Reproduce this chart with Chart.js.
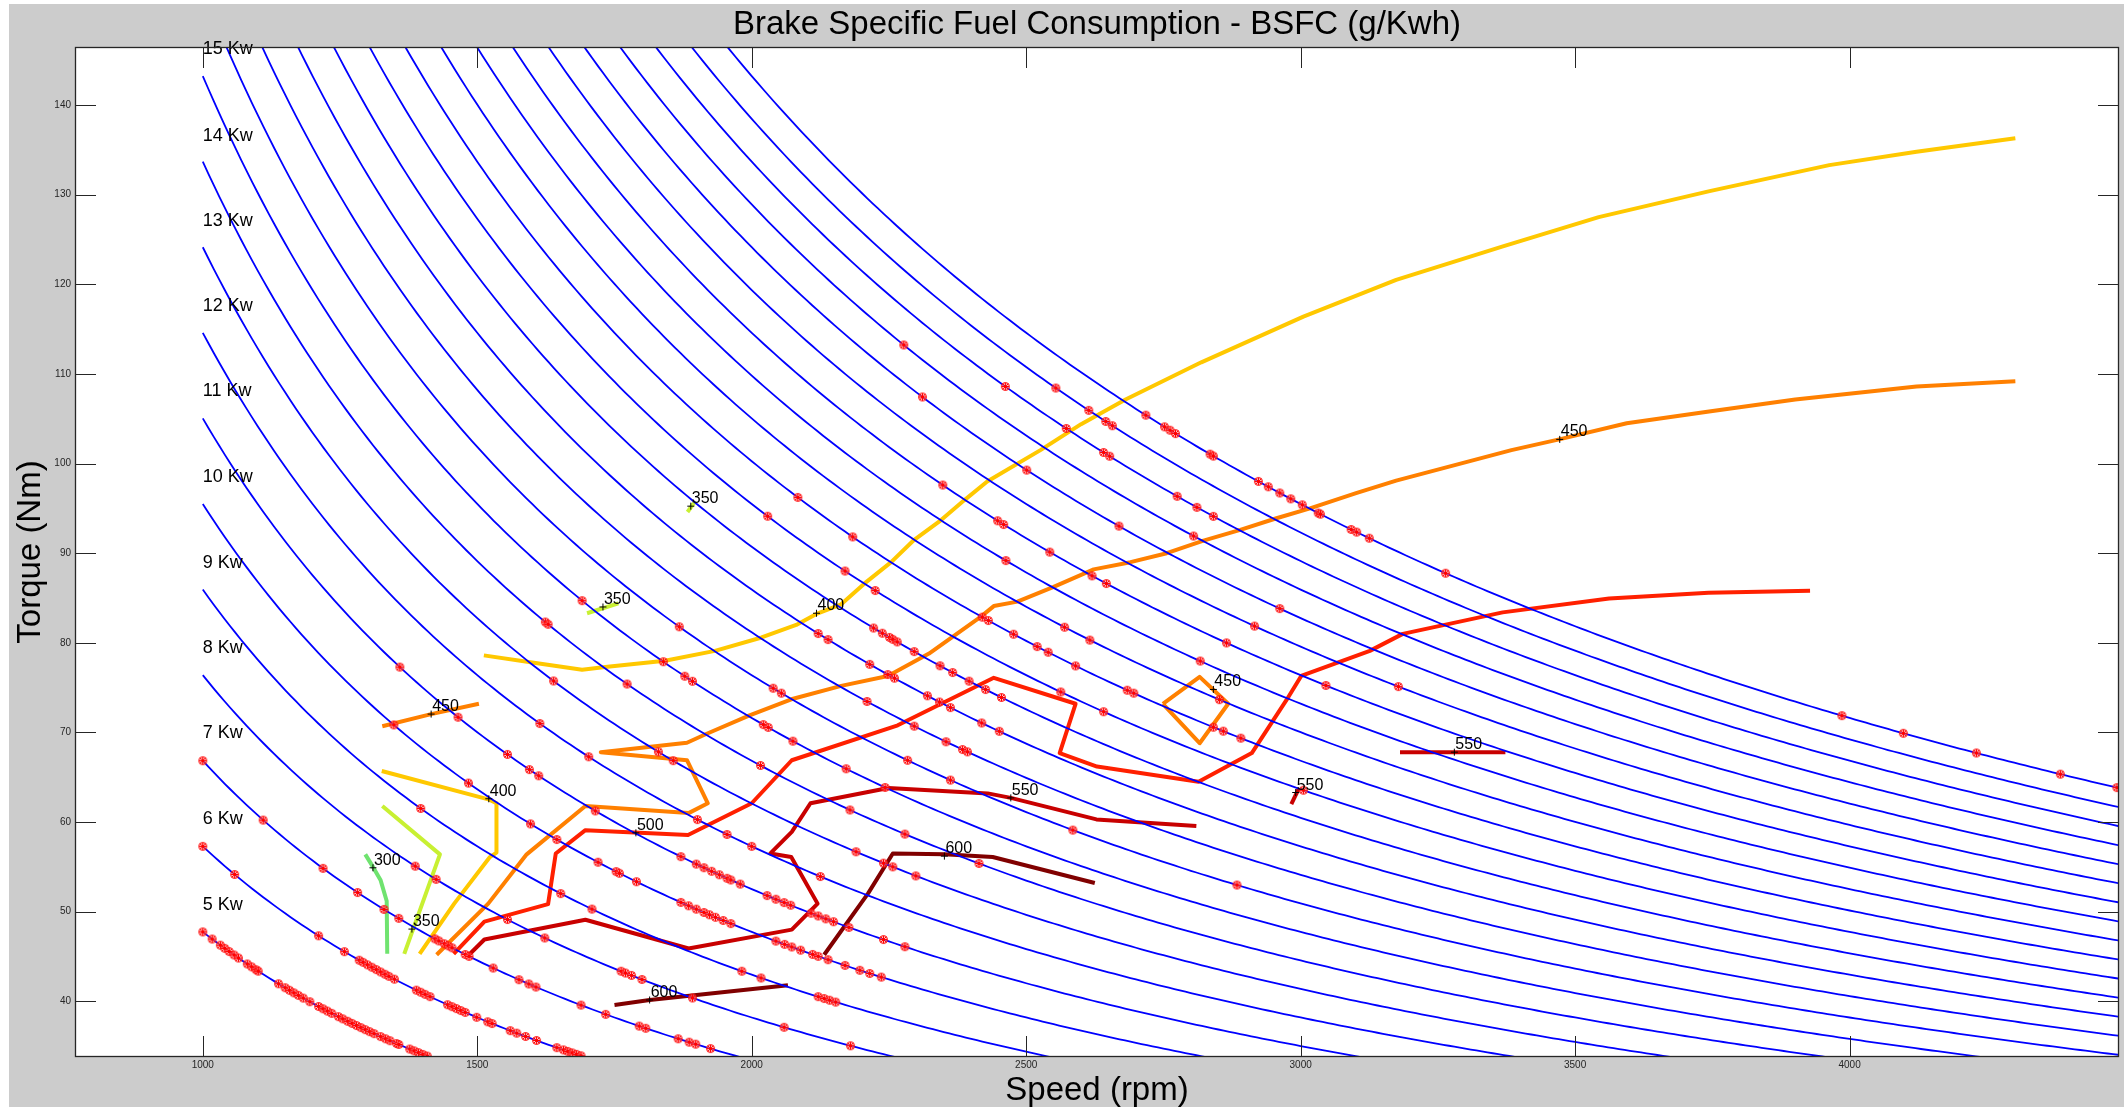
<!DOCTYPE html>
<html><head><meta charset="utf-8">
<script src="https://cdn.jsdelivr.net/npm/chart.js@4.4.1/dist/chart.umd.min.js"></script>
<style>
html,body{margin:0;padding:0;background:#fff;overflow:hidden;}
#wrap{position:absolute;left:0;top:0;width:2124px;height:1107px;}
</style></head><body>
<div id="wrap"><canvas id="c"></canvas></div>
<script>
const FONT = "'Liberation Sans', Arial, Helvetica, sans-serif";
const titleText = 'Brake Specific Fuel Consumption - BSFC (g/Kwh)';
const xAxisTitle = 'Speed (rpm)';
const yAxisTitle = 'Torque (Nm)';
const xTickValues = [1000, 1500, 2000, 2500, 3000, 3500, 4000];
const yTickValues = [40, 50, 60, 70, 80, 90, 100, 110, 120, 130, 140];
const xRange = [769, 4489];
const yRange = [33.9, 146.37];

// iso-power lines (kW) : torque = P * 9549.3 / rpm, drawn from 1000 rpm
const powerLevelsKw = [5,6,7,8,9,10,11,12,13,14,15,16,17,18,19,20,21,22,23,24,25,26,27,28,29,30];
const curveStartRpm = 1000;
const curveEndRpm = 4500;
// "N Kw" labels: text and torque position read at 1000 rpm
const kwLabelText = ['5 Kw','6 Kw','7 Kw','8 Kw','9 Kw','10 Kw','11 Kw','12 Kw','13 Kw','14 Kw','15 Kw'];
const kwLabelTorque = [50.7, 60.3, 69.9, 79.4, 88.9, 98.5, 108.1, 117.6, 127.1, 136.6, 146.2];

// measured operating points: [power level kW, speeds rpm]
const opPoints = [
 [5,  [1000,1017,1032,1040,1048,1057,1065,1081,1089,1097,1101,1138,1150,1158,1166,1174,1183,1195,1211,1219,1227,1235,1247,1255,1264,1272,1280,1288,1296,1304,1312,1324,1333,1341,1353,1357,1377,1385,1393,1401,1409]],
 [6,  [1000,1058,1211,1258,1285,1292,1300,1308,1316,1324,1332,1339,1349,1389,1397,1405,1414,1446,1454,1462,1470,1478,1499,1519,1527,1560,1572,1588,1608,1645,1657,1665,1673,1681,1689]],
 [7,  [1000,1110,1219,1282,1330,1357,1423,1430,1440,1447,1454,1478,1485,1529,1576,1594,1607,1689,1734,1795,1807,1866,1886,1898,1925]],
 [8,  [1387,1425,1555,1623,1762,1770,1781,1800,1892,2059,2180]],
 [9,  [1397,1652,1709,1982,2017,2121,2132,2142,2153]],
 [10, [1348,1484,1597,1645,1720,1753,1759,1790,1871,1885,1899,1913,1923,1934,1948,1962,2044,2060,2073,2089,2111,2121,2139,2170,2197,2215,2236]],
 [11, [1359,1465,1555,1595,1612,1715,1871,1899,1913,1927,1941,1955,1962,1979,2028,2044,2059,2071,2108,2121,2135,2149,2177,2240,2279]],
 [12, [1614,1703,1901,1955,2000,2125]],
 [13, [1639,1830,1857,2190,2240,2257,2299]],
 [14, [1624,1629,1773,2016,2179,2279,2414]],
 [15, [1691,1839,1878,1892,2021,2030,2075,2172,2243]],
 [16, [1868,2039,2054,2284,2362,2585,2884]],
 [17, [2210,2296,2354,2384,2393]],
 [18, [2121,2139,2215,2248,2260,2320,2342,2362,2419,2451]],
 [19, [2222,2238,2251,2257,2265,2296,2343,2366,2396,2426,2455]],
 [20, [2029,2170,2225,2563,2641,3005]],
 [21, [2084,2184,2420,2431,2477,2520,2540,2590,2684,2696,2841,2859,2891]],
 [22, [2570,2616,2852]],
 [23, [2463,2817]],
 [24, [2348,2448,2459,2543,2620,2646,2865,3046]],
 [25, [2916,3178]],
 [26, [2311,2501,2669,2962]],
 [27, [2277,2805]],
 [28, [2462,2573,2641,2652,2775,2811,2841]],
 [29, [2554,2614,2645,2657]],
 [30, [2718,2752,2762,2772,2835,2841,2923,2941,2962,2982,3003,3032,3036,3092,3102,3125,3264,3986,4098,4231,4384,4487]]
];

// BSFC iso-lines [rpm, Nm]
const bsfc300  = [[1296,56.4],[1310,55.0],[1324,53.5],[1335,51.2],[1336,45.3]];
const bsfc350a = [[1327,61.8],[1432,56.4],[1367,45.3]];
const bsfc350b = [[1700,83.3],[1757,84.4]];
const bsfc350c = [[1883,94.6],[1896,95.7]];
const bsfc400a = [[1326,65.7],[1522,62.5],[1535,62.1],[1535,56.6],[1523,56.1],[1458,50.9],[1395,45.3]];
const bsfc400b = [[1512,78.6],[1600,77.8],[1691,77.0],[1733,77.3],[1842,78.0],[1933,79.1],[2018,80.6],[2081,82.0],[2117,83.2],[2163,84.3],[2205,86.6],[2254,89.0],[2296,91.5],[2345,93.7],[2387,95.9],[2429,98.0],[2526,101.5],[2600,104.4],[2681,107.15],[2819,111.3],[3005,116.4],[3174,120.5],[3367,124.2],[3543,127.5],[3745,130.4],[3963,133.3],[4122,134.8],[4302,136.3]];
const bsfc450a = [[1327,70.7],[1416,72.05],[1503,73.2]];
const bsfc450b = [[1426,45.2],[1520,50.9],[1590,56.4],[1697,61.8],[1885,61.0],[1920,62.1],[1882,66.9],[1725,67.8],[1882,68.85],[1916,69.8],[1996,71.9],[2072,73.7],[2163,75.2],[2248,76.3],[2323,78.8],[2417,82.9],[2441,84.1],[2484,84.6],[2550,86.25],[2623,88.2],[2690,89.0],[2756,90.0],[2823,91.4],[2890,92.6],[2956,93.9],[3017,95.0],[3101,96.7],[3174,98.1],[3384,101.5],[3471,102.7],[3594,104.5],[3744,105.8],[3901,107.15],[4122,108.6],[4302,109.2]];
const bsfc450c = [[2749,73.2],[2816,76.2],[2868,73.2],[2816,68.8],[2749,73.2]];
const bsfc500  = [[1457,45.3],[1513,48.9],[1629,50.85],[1643,56.5],[1697,59.1],[1884,58.55],[2000,62.1],[2073,66.9],[2266,70.8],[2441,76.1],[2590,73.2],[2561,67.7],[2629,66.2],[2814,64.5],[2911,67.7],[2974,73.6],[3001,76.3],[3126,79.1],[3186,81.0],[3368,83.4],[3562,84.95],[3743,85.6],[3928,85.8]];
const bsfc550a = [[1485,45.2],[1513,46.9],[1697,49.1],[1885,45.9],[2073,48.0],[2120,50.9],[2072,56.1],[2034,56.5],[2073,58.9],[2107,62.1],[2249,63.8],[2430,63.2],[2472,62.7],[2628,60.3],[2810,59.55]];
const bsfc550b = [[2983,62.0],[2997,63.8]];
const bsfc550c = [[3181,67.8],[3373,67.8]];
const bsfc600a = [[1750,39.6],[1814,40.15],[2066,41.8]];
const bsfc600b = [[2132,45.2],[2212,52.05],[2257,56.5],[2351,56.4],[2439,56.1],[2625,53.2]];

const contourColors = {300:'#6fe36f', 350:'#c8f032', 400:'#ffc800', 450:'#ff8000', 500:'#ff2000', 550:'#c80000', 600:'#800000'};
const contourSets = [
 [300, bsfc300], [350, bsfc350a], [350, bsfc350b], [350, bsfc350c],
 [400, bsfc400a], [400, bsfc400b], [450, bsfc450a], [450, bsfc450b], [450, bsfc450c],
 [500, bsfc500], [550, bsfc550a], [550, bsfc550b], [550, bsfc550c], [600, bsfc600a], [600, bsfc600b]
];
// contour labels [text, rpm, Nm]
const contourLabels = [
 ['300',1310,54.9], ['350',1381,48.06], ['350',1729,84.0], ['350',1889,95.25],
 ['400',1521,62.6], ['400',2118,83.3], ['450',1416,72.05], ['450',2841,74.8], ['450',3472,102.7],
 ['500',1789,58.8], ['550',2472,62.7], ['550',2991,63.3], ['550',3280,67.8],
 ['600',1814,40.15], ['600',2351,56.2]
];

function makeMarker(){
  const c = document.createElement('canvas'); c.width = 11; c.height = 11;
  const g = c.getContext('2d');
  g.fillStyle = 'rgba(255,170,170,0.55)';
  g.strokeStyle = '#ff0000'; g.lineWidth = 1;
  g.beginPath(); g.arc(5.5,5.5,4,0,Math.PI*2); g.fill(); g.stroke();
  g.beginPath();
  g.moveTo(5.5,2); g.lineTo(5.5,9); g.moveTo(2,5.5); g.lineTo(9,5.5);
  g.moveTo(3,3); g.lineTo(8,8); g.moveTo(8,3); g.lineTo(3,8);
  g.stroke();
  return c;
}
const marker = makeMarker();

const datasets = [];
// operating points (top)
const dotData = [];
opPoints.forEach(([p, speeds]) => speeds.forEach(n => dotData.push({x:n, y:p*9549.3/n})));
datasets.push({label:'points', data:dotData, showLine:false, pointStyle:marker, pointRadius:5, order:0});
// iso-power curves
powerLevelsKw.forEach(p => {
  const d = [];
  for (let n = curveStartRpm; n <= curveEndRpm; n += 10) d.push({x:n, y:p*9549.3/n});
  datasets.push({label:p+' kW', data:d, showLine:true, borderColor:'#0000ff', borderWidth:1.8, pointRadius:0, tension:0, order:1});
});
// BSFC contours
contourSets.forEach(([lvl, pts]) => {
  datasets.push({label:'BSFC '+lvl, data:pts.map(([x,y])=>({x,y})), showLine:true, borderColor:contourColors[lvl], borderWidth:4, pointRadius:0, tension:0, order:2, borderJoinStyle:'round', borderCapStyle:'butt'});
});

const decor = {
  id:'decor',
  beforeDraw(chart){
    const ctx = chart.ctx, w = chart.width, h = chart.height, a = chart.chartArea;
    ctx.save();
    ctx.fillStyle = '#ffffff'; ctx.fillRect(0,0,w,h);
    ctx.fillStyle = '#cccccc'; ctx.fillRect(9,4,w-9,h-4);
    ctx.fillStyle = '#ffffff'; ctx.fillRect(a.left,a.top,a.right-a.left,a.bottom-a.top);
    ctx.restore();
  },
  afterDatasetsDraw(chart){
    const ctx = chart.ctx, xs = chart.scales.x, ys = chart.scales.y;
    ctx.save();
    ctx.fillStyle = '#000';
    ctx.font = '18px ' + FONT;
    ctx.textAlign = 'left'; ctx.textBaseline = 'middle';
    kwLabelText.forEach((t,i) => ctx.fillText(t, xs.getPixelForValue(curveStartRpm), ys.getPixelForValue(kwLabelTorque[i])));
    ctx.font = '16px ' + FONT;
    ctx.textBaseline = 'alphabetic';
    ctx.strokeStyle = '#000'; ctx.lineWidth = 1;
    contourLabels.forEach(([t,n,v]) => {
      const px = xs.getPixelForValue(n), py = ys.getPixelForValue(v);
      ctx.beginPath(); ctx.moveTo(px-3.5,py); ctx.lineTo(px+3.5,py); ctx.moveTo(px,py-3.5); ctx.lineTo(px,py+3.5); ctx.stroke();
      ctx.fillText(t, px+1, py-3);
    });
    ctx.restore();
  },
  afterDraw(chart){
    const ctx = chart.ctx, xs = chart.scales.x, ys = chart.scales.y, a = chart.chartArea;
    ctx.save();
    ctx.strokeStyle = '#262626'; ctx.lineWidth = 1;
    ctx.beginPath();
    xTickValues.forEach(v => {
      const px = Math.round(xs.getPixelForValue(v)) + 0.5;
      ctx.moveTo(px, a.bottom); ctx.lineTo(px, a.bottom-20);
      ctx.moveTo(px, a.top); ctx.lineTo(px, a.top+20);
    });
    yTickValues.forEach(v => {
      const py = Math.round(ys.getPixelForValue(v)) + 0.5;
      ctx.moveTo(a.left, py); ctx.lineTo(a.left+20, py);
      ctx.moveTo(a.right, py); ctx.lineTo(a.right-20, py);
    });
    ctx.stroke();
    ctx.lineWidth = 1.3;
    ctx.strokeRect(a.left-0.5, a.top-0.5, a.right-a.left+1, a.bottom-a.top+1);
    ctx.restore();
  }
};

new Chart(document.getElementById('c'), {
  type:'scatter',
  data:{datasets},
  options:{
    responsive:true, maintainAspectRatio:false, animation:false, events:[],
    layout:{padding:0},
    plugins:{
      legend:{display:false}, tooltip:{enabled:false},
      title:{display:true, text:titleText, fullSize:false, color:'#000',
        font:{family:FONT, size:33, weight:'normal', lineHeight:1.2}, padding:{top:5, bottom:3.4}}
    },
    scales:{
      x:{type:'linear', position:'bottom', min:xRange[0], max:xRange[1],
        afterBuildTicks: s => { s.ticks = xTickValues.map(v => ({value:v})); },
        afterFit: s => { s.height = 51; },
        grid:{display:false, drawTicks:false}, border:{display:false},
        ticks:{font:{family:FONT, size:10}, color:'#262626', padding:3, maxRotation:0, autoSkip:false, callback: v => String(v)},
        title:{display:true, text:xAxisTitle, color:'#000', font:{family:FONT, size:33, lineHeight:1.0}, padding:{top:0, bottom:0}}
      },
      y:{type:'linear', position:'left', min:yRange[0], max:yRange[1],
        afterBuildTicks: s => { s.ticks = yTickValues.map(v => ({value:v})); },
        afterFit: s => { s.width = 76; },
        grid:{display:false, drawTicks:false}, border:{display:false},
        ticks:{font:{family:FONT, size:10}, color:'#262626', padding:5, autoSkip:false, callback: v => String(v)},
        title:{display:true, text:yAxisTitle, color:'#000', font:{family:FONT, size:33, lineHeight:1.2}, padding:{top:11.4, bottom:0}}
      }
    }
  },
  plugins:[decor]
});
</script>
</body></html>
